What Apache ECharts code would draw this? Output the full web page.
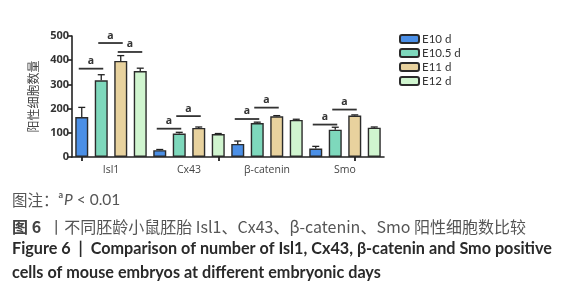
<!DOCTYPE html>
<html lang="zh">
<head>
  <meta charset="UTF-8">
  <title>Figure 6</title>
  <script src="https://cdn.jsdelivr.net/npm/echarts@6/dist/echarts.min.js"></script>
  <style>
    html, body { margin: 0; padding: 0; background: #fff; }
    #chart { width: 573px; height: 300px; }
  </style>
</head>
<body>
<div id="chart"></div>
<script>
  const genes = ["Isl1", "Cx43", "β-catenin", "Smo"];
  const groups = ["E10 d", "E10.5 d", "E11 d", "E12 d"];
  const colors = ["#4b8fe6", "#7ed8bc", "#e8d29e", "#d0f5cf"];

  // means per group, in gene order
  const e10 = [165, 28, 54, 35];
  const e105 = [317, 97, 140, 113];
  const e11 = [397, 120, 168, 171];
  const e12 = [355, 95, 153, 121];
  const means = [e10, e105, e11, e12];

  // upper error (SD) per group
  const e10Err = [40, 3, 12, 9];
  const e105Err = [23, 5, 4, 10];
  const e11Err = [22, 4, 3, 3];
  const e12Err = [12, 2, 3, 3];
  const errs = [e10Err, e105Err, e11Err, e12Err];

  const yTicks = [0, 100, 200, 300, 400, 500];

  // significance bars: [gene index, from group, to group, height]
  const sigBars = [
    [0, 0, 1, 365], [0, 1, 2, 471], [0, 2, 3, 434],
    [1, 0, 1, 117], [1, 1, 2, 169],
    [2, 0, 1, 157], [2, 1, 2, 204],
    [3, 0, 1, 134], [3, 1, 2, 196]
  ];

  const chart = echarts.init(document.getElementById("chart"));

  const barSeries = groups.map((g, i) => ({
    name: g,
    type: "bar",
    data: means[i],
    barWidth: 13,
    barGap: "50%",
    itemStyle: { color: colors[i], borderColor: "#2b2b2b", borderWidth: 1.4 },
    z: 2
  }));

  const errData = [];
  groups.forEach((g, i) => {
    genes.forEach((gene, j) => errData.push([j, means[i][j], i, errs[i][j]]));
  });

  const errSeries = {
    type: "custom",
    data: errData,
    encode: { x: 0, y: 1 },
    z: 3,
    renderItem: (params, api) => {
      const w = api.size([1, 0])[0];
      const off = (api.value(2) - 1.5) * w / 4;
      const base = api.coord([api.value(0), api.value(1)]);
      const top = api.coord([api.value(0), api.value(1) + api.value(3)]);
      const x = base[0] + off;
      const st = { stroke: "#222", lineWidth: 1.3 };
      return {
        type: "group",
        children: [
          { type: "line", shape: { x1: x, y1: base[1], x2: x, y2: top[1] }, style: st },
          { type: "line", shape: { x1: x - 3.5, y1: top[1], x2: x + 3.5, y2: top[1] }, style: st }
        ]
      };
    }
  };

  const sigSeries = {
    type: "custom",
    data: sigBars.map(s => [s[0], s[3], s[1], s[2]]),
    encode: { x: 0, y: 1 },
    z: 4,
    renderItem: (params, api) => {
      const w = api.size([1, 0])[0];
      const c = api.coord([api.value(0), api.value(1)]);
      const x1 = c[0] + (api.value(2) - 1.5) * w / 4 - 3;
      const x2 = c[0] + (api.value(3) - 1.5) * w / 4 + 2;
      return {
        type: "group",
        children: [
          { type: "line", shape: { x1: x1, y1: c[1], x2: x2, y2: c[1] },
            style: { stroke: "#333", lineWidth: 1.8 } },
          { type: "text", x: (x1 + x2) / 2, y: c[1] - 2,
            style: { text: "a", fill: "#333", font: "bold 10.5px 'Open Sans'", align: "center", verticalAlign: "bottom" } }
        ]
      };
    }
  };

  chart.setOption({
    animation: false,
    grid: { left: 72, width: 312, top: 36, height: 121 },
    legend: {
      orient: "vertical",
      left: 394,
      top: 28,
      itemWidth: 19,
      itemHeight: 8,
      itemGap: 2,
      data: groups,
      textStyle: { fontSize: 11.5, lineHeight: 12, color: "#333", fontFamily: "Lato", padding: [0, 0, 0, -2] }
    },
    xAxis: [
      {
        type: "category",
        data: genes,
        axisLine: { lineStyle: { color: "#222", width: 1.6 } },
        axisTick: { show: false },
        axisLabel: { fontSize: 10.5, color: "#444", fontFamily: "Open Sans", margin: 8 }
      },
      {
        type: "category",
        data: genes.flatMap(g => groups.map(x => g + x)),
        position: "bottom",
        axisLine: { show: false },
        axisTick: { show: true, alignWithLabel: true, length: 4, lineStyle: { color: "#222", width: 1.8 } },
        axisLabel: { show: false }
      }
    ],
    yAxis: {
      type: "value",
      min: yTicks[0],
      max: yTicks[yTicks.length - 1],
      interval: 100,
      name: "阳性细胞数量",
      nameLocation: "middle",
      nameGap: 32,
      nameTextStyle: { fontSize: 12, color: "#444", fontFamily: "Noto Sans CJK SC" },
      axisLine: { show: true, lineStyle: { color: "#222", width: 1.6 } },
      axisTick: { show: true, length: 4, lineStyle: { color: "#222", width: 1.6 } },
      axisLabel: { fontSize: 11, color: "#333", fontWeight: "bold", fontFamily: "Open Sans", margin: 3 },
      splitLine: { show: false }
    },
    series: [...barSeries, errSeries, sigSeries],
    graphic: [
      {
        type: "text", left: 12, top: 191,
        style: {
          text: "{n|图注：}{s|a}{i|P}{t| < 0.01}",
          rich: {
            n: { fontSize: 15.5, fill: "#555", fontFamily: "Noto Sans CJK SC", lineHeight: 18 },
            s: { fontSize: 9, fill: "#555", fontFamily: "Lato", fontWeight: "bold", verticalAlign: "top", lineHeight: 18, padding: [0, 1, 7, 0] },
            i: { fontSize: 15.5, fill: "#555", fontStyle: "italic", fontFamily: "Lato", lineHeight: 18 },
            t: { fontSize: 15.5, fill: "#555", fontFamily: "Lato", lineHeight: 18 }
          }
        }
      },
      {
        type: "text", left: 12, top: 219,
        style: {
          text: "{b|图 6 }{n| 丨不同胚龄小鼠胚胎 Isl1、Cx43、β-catenin、Smo 阳性细胞数比较}",
          rich: {
            b: { fontSize: 16, fill: "#444", fontWeight: "bold", fontFamily: "Noto Sans CJK SC", lineHeight: 18 },
            n: { fontSize: 16, fill: "#555", fontFamily: "Noto Sans CJK SC", lineHeight: 18 }
          }
        }
      },
      {
        type: "text", left: 12, top: 240,
        style: {
          text: "Figure 6  |  Comparison of number of Isl1, Cx43, β-catenin and Smo positive",
          fill: "#2a2a2a", font: "bold 16.2px Lato", lineHeight: 18
        }
      },
      {
        type: "text", left: 12, top: 264,
        style: {
          text: "cells of mouse embryos at different embryonic days",
          fill: "#2a2a2a", font: "bold 16.2px Lato", lineHeight: 18
        }
      }
    ]
  });
</script>
</body>
</html>
